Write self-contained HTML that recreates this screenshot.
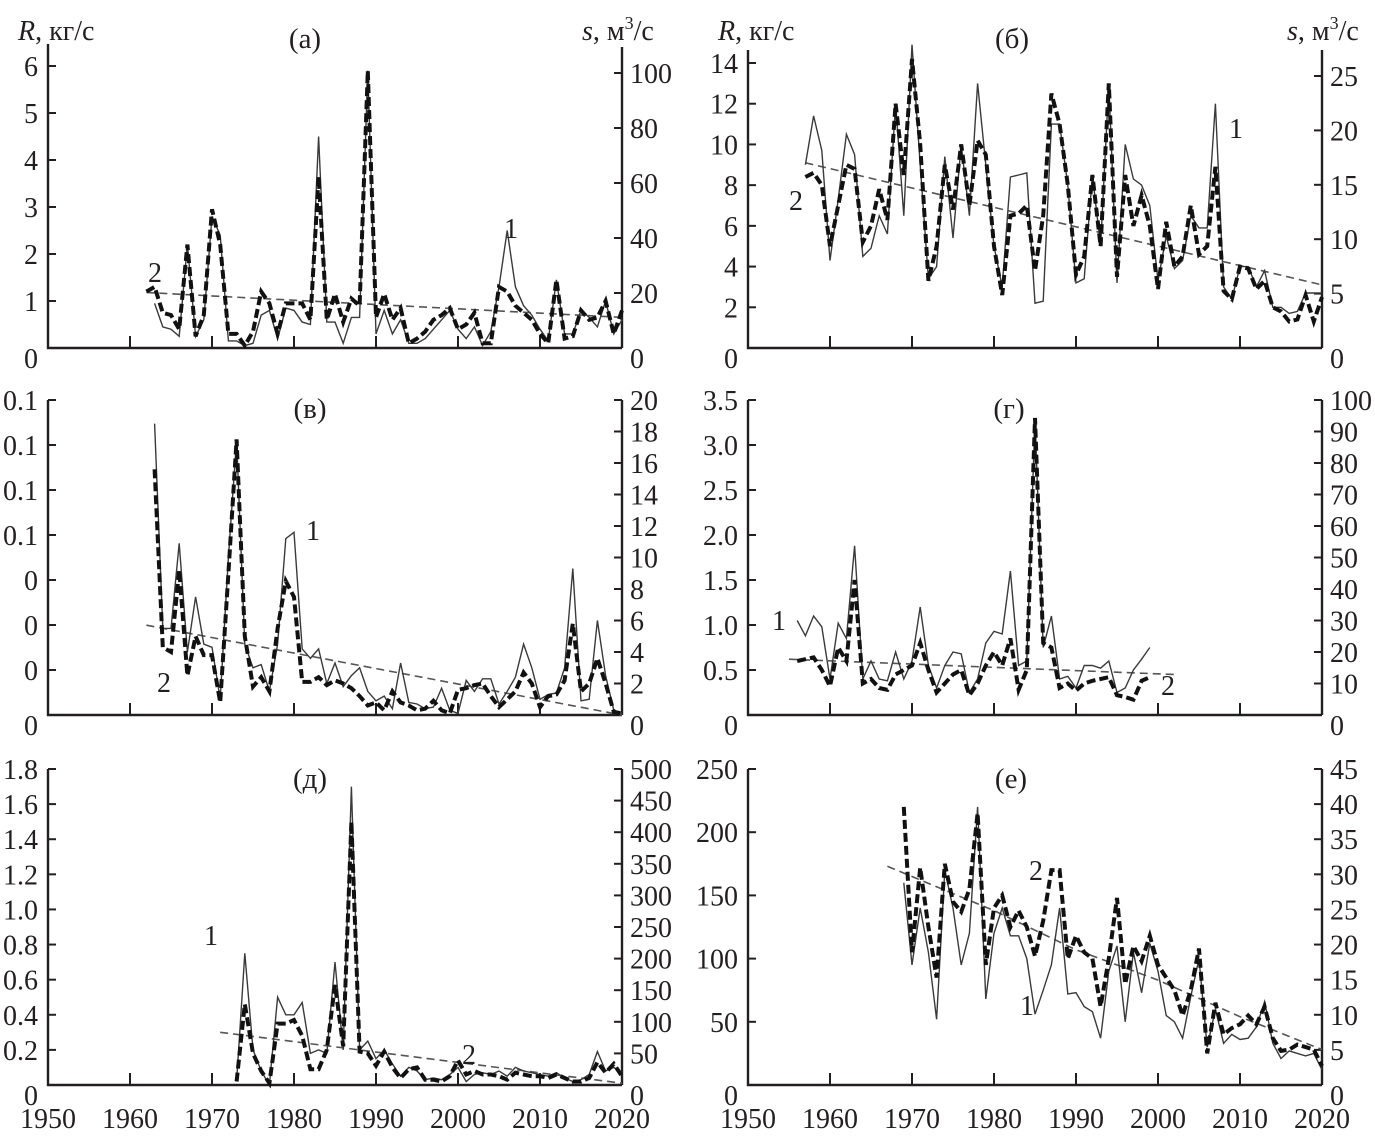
<!DOCTYPE html>
<html><head><meta charset="utf-8">
<style>
html,body{margin:0;padding:0;background:#fff;}
svg{display:block;font-family:"Liberation Serif","Times New Roman",serif;}
text{font-family:"Liberation Serif","Times New Roman",serif;}
</style></head>
<body>
<svg id="chart" width="1375" height="1138" viewBox="0 0 1375 1138" xmlns="http://www.w3.org/2000/svg">
<rect x="0" y="0" width="1375" height="1138" fill="#fff"/>
</svg>
<script>
// ---------- DATA ----------
const decadeLabels = ["1950","1960","1970","1980","1990","2000","2010","2020"];

// panel a
const aStart1 = 1963;
const aStart = 1962;
const aSeries1 = [0.95,0.45,0.4,0.25,2.2,0.25,0.6,2.8,2.4,0.15,0.15,0.05,0.1,0.7,0.8,0.2,0.85,0.8,0.55,0.5,4.5,0.55,0.55,0.1,0.65,0.65,5.9,0.3,0.8,0.3,0.6,0.1,0.1,0.2,0.4,0.6,0.8,0.4,0.2,0.45,0.05,0.35,1.3,2.5,1.3,0.9,0.7,0.4,0.15,1.45,0.3,0.3,0.8,0.65,0.45,1.0,0.3,0.6];
const aSeries2 = [1.2,1.3,0.75,0.7,0.4,2.2,0.25,0.7,2.95,2.2,0.3,0.3,0.05,0.35,1.2,0.95,0.3,0.95,0.95,0.95,0.6,3.65,0.6,1.15,0.55,1.05,0.9,5.9,0.65,1.15,0.6,0.85,0.1,0.2,0.35,0.6,0.7,0.85,0.4,0.5,0.75,0.1,0.1,1.3,1.2,0.9,0.75,0.6,0.3,0.1,1.45,0.2,0.25,0.8,0.6,0.65,1.0,0.3,0.8];
const aTrendYears = [1962,2020];
const aTrend = [1.18,0.65];
const aLeftTicks = ["0","1","2","3","4","5","6"];
const aRightTicks = ["0","20","40","60","80","100"];

// panel b
const bStart = 1957;
const bSeries1 = [9.0,11.4,9.7,4.3,7.3,10.5,9.5,4.5,4.9,6.5,5.6,12.0,6.5,14.9,9.0,3.4,4.0,9.4,5.4,10.0,6.5,13.0,9.0,5.0,3.0,8.4,8.5,8.6,2.2,2.3,11.0,11.0,8.0,3.2,3.4,8.5,5.0,13.0,3.2,10.0,8.3,8.0,7.0,3.3,5.5,3.9,4.3,6.5,5.9,5.9,12.0,3.0,2.4,4.0,4.0,3.0,3.8,2.0,2.0,1.7,1.8,2.7,2.7,2.7];
const bSeries2 = [8.4,8.6,8.0,5.0,7.0,9.0,8.8,5.2,6.0,7.8,6.3,12.0,8.5,14.2,10.0,3.3,5.0,9.0,6.8,10.0,7.0,10.2,9.5,5.0,2.6,6.5,6.6,7.0,3.8,6.5,12.5,11.0,8.0,3.6,4.5,8.5,5.0,13.0,3.5,8.5,6.0,7.5,6.0,2.9,6.2,4.0,4.5,7.0,4.6,5.0,8.9,2.8,2.4,4.0,3.9,2.9,3.3,2.0,1.8,1.3,1.4,2.6,1.3,2.5];
const bTrendYears = [1957,2020];
const bTrend = [9.1,3.1];
const bLeftTicks = ["0","2","4","6","8","10","12","14"];
const bRightTicks = ["0","5","10","15","20","25"];

// panel v (values on right axis units)
const vStart = 1963;
const vSeries1 = [18.5,5.5,5.5,10.9,4.0,7.5,4.5,4.3,1.0,10.0,17.5,4.5,3.0,3.2,1.5,4.5,11.2,11.6,4.2,3.6,4.2,2.0,3.3,1.8,2.5,3.0,1.5,0.9,1.2,0.4,3.3,0.8,0.7,0.4,0.5,1.7,0.3,0.1,2.2,1.5,2.3,2.3,0.7,1.5,2.4,4.5,3.0,1.0,1.3,1.4,3.0,9.3,0.9,1.0,6.0,2.5,0.3,0.1];
const vSeries2 = [15.6,4.3,4.0,9.2,2.5,5.0,3.8,3.8,0.8,9.0,17.5,5.0,1.8,2.4,1.5,5.5,8.5,7.5,2.1,2.1,2.4,1.9,2.2,2.0,1.7,1.2,0.6,0.8,0.3,1.5,0.8,0.6,0.3,0.4,0.9,0.3,0.1,1.6,1.7,1.9,2.0,1.2,0.5,1.0,1.5,2.7,2.0,0.5,1.2,1.3,2.2,5.8,1.5,2.0,3.6,2.0,0.2,0.1];
const vTrendYears = [1962,2020];
const vTrend = [5.7,0.0];
const vLeftTicks = ["0","0","0","0","0.1","0.1","0.1","0.1"];
const vRightTicks = ["0","2","4","6","8","10","12","14","16","18","20"];

// panel g
const gStart = 1956;
const gSeries1 = [1.05,0.88,1.1,0.98,0.4,1.02,0.85,1.88,0.4,0.6,0.4,0.38,0.7,0.4,0.6,1.2,0.55,0.3,0.55,0.7,0.68,0.25,0.4,0.8,0.93,0.9,1.6,0.55,0.6,3.3,0.75,1.1,0.4,0.43,0.3,0.55,0.55,0.52,0.6,0.25,0.3,0.5,0.62,0.75];
const gSeries2 = [0.6,0.62,0.64,0.5,0.32,0.75,0.6,1.5,0.35,0.4,0.3,0.28,0.45,0.5,0.55,0.8,0.5,0.25,0.35,0.45,0.5,0.22,0.35,0.55,0.7,0.55,0.85,0.28,0.5,3.3,0.8,0.75,0.3,0.35,0.27,0.35,0.38,0.4,0.42,0.22,0.2,0.17,0.38,0.42];
const gTrendYears = [1955,2002];
const gTrend = [0.62,0.45];
const gLeftTicks = ["0","0.5","1.0","1.5","2.0","2.5","3.0","3.5"];
const gRightTicks = ["0","10","20","30","40","50","60","70","80","90","100"];

// panel d
const dStart = 1973;
const dSeries1 = [0.02,0.75,0.2,0.08,0.0,0.5,0.4,0.4,0.47,0.18,0.2,0.18,0.7,0.2,1.7,0.2,0.25,0.15,0.2,0.12,0.05,0.1,0.08,0.03,0.04,0.03,0.06,0.1,0.02,0.06,0.07,0.06,0.08,0.05,0.1,0.08,0.07,0.06,0.05,0.07,0.04,0.02,0.03,0.06,0.19,0.08,0.1,0.07];
const dSeries2 = [0.02,0.46,0.18,0.08,0.01,0.35,0.35,0.37,0.28,0.09,0.09,0.2,0.57,0.22,1.5,0.19,0.18,0.11,0.19,0.1,0.04,0.09,0.1,0.03,0.03,0.02,0.05,0.14,0.06,0.08,0.06,0.06,0.05,0.03,0.07,0.06,0.05,0.05,0.04,0.06,0.04,0.02,0.02,0.04,0.13,0.07,0.12,0.05];
const dTrendYears = [1971,2020];
const dTrend = [0.3,0.01];
const dLeftTicks = ["0","0.2","0.4","0.6","0.8","1.0","1.2","1.4","1.6","1.8"];
const dRightTicks = ["0","50","100","150","200","250","300","350","400","450","500"];

// panel e
const eStart = 1969;
const eSeries1 = [160,95,140,105,52,170,140,95,120,220,68,120,140,118,118,100,56,75,95,140,72,73,62,58,37,90,110,50,105,73,112,90,55,50,37,70,100,30,60,33,40,36,37,46,66,33,21,27,25,23,25,12];
const eSeries2 = [220,105,172,125,85,175,145,137,155,215,95,140,150,125,138,125,102,130,170,170,100,118,105,100,62,100,148,80,110,98,118,95,85,75,55,75,108,25,65,40,45,48,55,48,62,37,27,28,32,30,28,15];
const eTrendYears = [1967,1980,1990,2000,2010,2020];
const eTrend = [173,138,107,83,54,28];
const eLeftTicks = ["0","50","100","150","200","250"];
const eRightTicks = ["0","5","10","15","20","25","30","35","40","45"];

// ---------- LAYOUT ----------
const NS = "http://www.w3.org/2000/svg";
const svg = document.getElementById("chart");
const PX_PER_YEAR = 8.2;
const FONT = '"Liberation Serif","Times New Roman",serif';

function mk(tag, attrs, parent){
  const el = document.createElementNS(NS, tag);
  for (const k in attrs) el.setAttribute(k, attrs[k]);
  (parent||svg).appendChild(el);
  return el;
}
function txt(s, x, y, anchor, parent, size){
  const t = mk("text", {x:x, y:y, "text-anchor":anchor||"start", "font-size":size||27, "font-family":FONT, fill:"#231f20"}, parent);
  t.textContent = s;
  return t;
}

function drawPanel(p){
  const g = mk("g", {});
  
  
  const xR = p.x0 + 70*PX_PER_YEAR;
  const X = yr => p.x0 + (yr-1950)*PX_PER_YEAR;
  const Y = v => p.y0 - v/p.vmax*(p.y0-p.yTop);

  const ax = mk("path", {d:`M${p.x0},${p.axTopL} L${p.x0},${p.y0} L${xR},${p.y0} M${xR},${p.axTopR} L${xR},${p.y0}`, stroke:"#231f20","stroke-width":2.4, fill:"none"}, g);
  
  

  for (let i=1;i<7;i++){
    const tx = p.x0 + i*10*PX_PER_YEAR;
    const t = mk("line", {x1:tx,x2:tx,y1:p.y0,y2:p.y0-12,stroke:"#231f20","stroke-width":2}, g);
    
    
  }
  if (p.yearLabels){
    for (let i=0;i<decadeLabels.length;i++){
      const l = txt(decadeLabels[i], p.x0 + i*10*PX_PER_YEAR, 1128, "middle", g, 28);
      
      
    }
  }
  const nl = p.leftTicks.length-1;
  for (let i=0;i<=nl;i++){
    const ty = p.y0 - i*(p.y0-p.yTopL)/nl;
    if (i>0){
      const t = mk("line",{x1:p.x0,x2:p.x0+8,y1:ty,y2:ty,stroke:"#231f20","stroke-width":2}, g);
      
      
    }
    const l = txt(p.leftTicks[i], p.x0-10, ty+(i===0?20:10), "end", g, 28);
    
    
  }
  const nr = p.rightTicks.length-1;
  for (let i=0;i<=nr;i++){
    const ty = p.y0 - i*(p.y0-p.yTopR)/nr;
    if (i>0){
      const t = mk("line",{x1:xR-8,x2:xR,y1:ty,y2:ty,stroke:"#231f20","stroke-width":2}, g);
      
      
    }
    const l = txt(p.rightTicks[i], xR+8, ty+(i===0?20:10), "start", g, 28);
    
    
  }

  function pts(start, arr){ return arr.map((v,i)=>X(start+i).toFixed(1)+","+Y(v).toFixed(1)).join(" "); }
  const tr = mk("polyline",{points:p.trendYears.map((yr,i)=>X(yr).toFixed(1)+","+Y(p.trend[i]).toFixed(1)).join(" "), fill:"none", stroke:"#555","stroke-width":1.6,"stroke-dasharray":"8,5"}, g);
  
  
  const s1 = mk("polyline",{points:pts(p.start1!==undefined?p.start1:p.start,p.s1), fill:"none", stroke:"#3a3a3a","stroke-width":1.4}, g);
  
  
  const s2 = mk("polyline",{points:pts(p.start,p.s2), fill:"none", stroke:"#111","stroke-width":4,"stroke-dasharray":"9,4"}, g);
  
  

  const pl = txt(p.label, p.lx, p.ly, "middle", g, 29);
  
  
  const l1 = txt("1", p.n1[0], p.n1[1]+10, "middle", g, 28);
  
  
  const l2 = txt("2", p.n2[0], p.n2[1]+10, "middle", g, 28);
  
  
}

drawPanel({name:"panel-a", x0:48, y0:348, yTop:66, vmax:6, yTopL:66, yTopR:73, axTopL:44, axTopR:47,
  leftTicks:aLeftTicks, rightTicks:aRightTicks, start:aStart, start1:aStart1, s1:aSeries1, s2:aSeries2, trendYears:aTrendYears, trend:aTrend,
  label:"(а)", lx:305, ly:48, n1:[511,228], n2:[155,272], yearLabels:false});
drawPanel({name:"panel-b", x0:748, y0:348, yTop:63, vmax:14, yTopL:63, yTopR:76, axTopL:50, axTopR:50,
  leftTicks:bLeftTicks, rightTicks:bRightTicks, start:bStart, s1:bSeries1, s2:bSeries2, trendYears:bTrendYears, trend:bTrend,
  label:"(б)", lx:1012, ly:48, n1:[1236,128], n2:[796,200], yearLabels:false});
drawPanel({name:"panel-v", x0:48, y0:715, yTop:400, vmax:20, yTopL:400, yTopR:400, axTopL:400, axTopR:400,
  leftTicks:vLeftTicks, rightTicks:vRightTicks, start:vStart, s1:vSeries1, s2:vSeries2, trendYears:vTrendYears, trend:vTrend,
  label:"(в)", lx:310, ly:418, n1:[313,530], n2:[164,682], yearLabels:false});
drawPanel({name:"panel-g", x0:748, y0:715, yTop:400, vmax:3.5, yTopL:400, yTopR:400, axTopL:400, axTopR:400,
  leftTicks:gLeftTicks, rightTicks:gRightTicks, start:gStart, s1:gSeries1, s2:gSeries2, trendYears:gTrendYears, trend:gTrend,
  label:"(г)", lx:1009, ly:418, n1:[779,620], n2:[1168,685], yearLabels:false});
drawPanel({name:"panel-d", x0:48, y0:1085, yTop:769, vmax:1.8, yTopL:769, yTopR:769, axTopL:769, axTopR:769,
  leftTicks:dLeftTicks, rightTicks:dRightTicks, start:dStart, s1:dSeries1, s2:dSeries2, trendYears:dTrendYears, trend:dTrend,
  label:"(д)", lx:310, ly:788, n1:[211,935], n2:[469,1054], yearLabels:true});
drawPanel({name:"panel-e", x0:748, y0:1085, yTop:769, vmax:250, yTopL:769, yTopR:769, axTopL:769, axTopR:769,
  leftTicks:eLeftTicks, rightTicks:eRightTicks, start:eStart, s1:eSeries1, s2:eSeries2, trendYears:eTrendYears, trend:eTrend,
  label:"(е)", lx:1011, ly:788, n1:[1027,1005], n2:[1036,870], yearLabels:true});

function title(x, y, parts, name){
  const t = mk("text",{x:x,y:y,"font-size":28,"font-family":FONT,fill:"#231f20"});
  
  
  parts.forEach(pt=>{
    const s = mk("tspan", pt.attrs||{}, t);
    s.textContent = pt.t;
  });
}
title(18, 40, [{t:"R",attrs:{"font-style":"italic"}},{t:", кг/с"}], "left-axis-title-a");
title(582, 40, [{t:"s",attrs:{"font-style":"italic"}},{t:", м"},{t:"3",attrs:{"font-size":18,dy:-11}},{t:"/с",attrs:{dy:11}}], "right-axis-title-a");
title(718, 40, [{t:"R",attrs:{"font-style":"italic"}},{t:", кг/с"}], "left-axis-title-b");
title(1287, 40, [{t:"s",attrs:{"font-style":"italic"}},{t:", м"},{t:"3",attrs:{"font-size":18,dy:-11}},{t:"/с",attrs:{dy:11}}], "right-axis-title-b");
</script>
</body></html>
